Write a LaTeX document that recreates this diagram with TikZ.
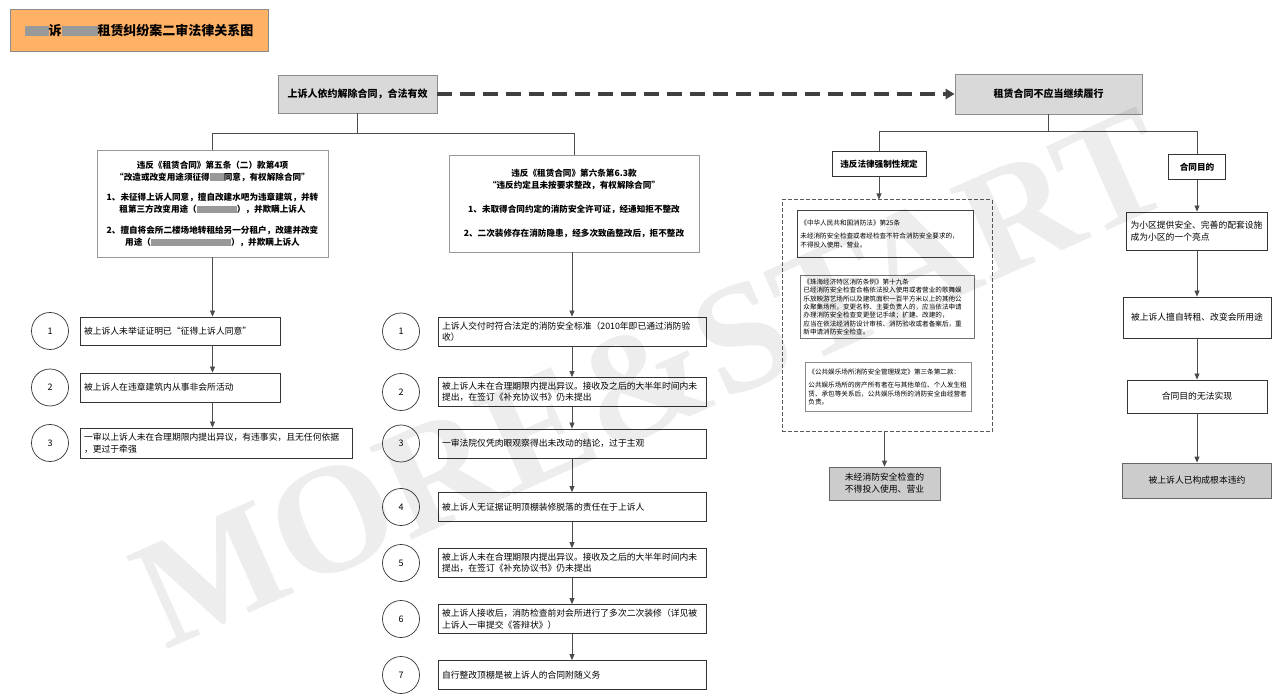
\documentclass[tikz,border=0pt]{standalone}
\usepackage{fontspec}
\setmainfont{Noto Sans CJK SC}
\newfontfamily\wmfont{Liberation Serif}
\usetikzlibrary{arrows.meta,positioning,calc}

\definecolor{titleorange}{HTML}{FFB266}
\newcommand{\blurbox}[2]{\textcolor{black!40}{\rule[-0.5pt]{#1}{#2}}}

\begin{document}
\begin{tikzpicture}[x=1pt,y=-1pt,
  conn/.style={draw=black!70,line width=0.8pt},
  arr/.style={conn,-{Triangle[length=6pt,width=5pt]}},
  topbox/.style={draw=black!45,fill=black!15,line width=0.8pt,inner sep=0pt,font=\bfseries\fontsize{10}{12}\selectfont},
  bigbox/.style={draw=black!40,fill=white,line width=0.8pt,inner sep=0pt,align=center,font=\bfseries\fontsize{8.6}{12}\selectfont},
  itembox/.style={draw=black!80,fill=white,line width=0.8pt,inner xsep=4pt,inner ysep=0pt,align=left,font=\fontsize{8.8}{11.5}\selectfont},
  numcirc/.style={circle,draw=black!80,line width=0.7pt,minimum size=37pt,inner sep=0pt,font=\fontsize{9}{11}\selectfont},
  lawbox/.style={draw=black!75,fill=white,line width=0.8pt,inner xsep=3pt,inner ysep=0pt,anchor=north west,align=left,font=\fontsize{6.6}{8.4}\selectfont},
  keybox/.style={draw=black!80,fill=white,line width=1pt,inner sep=0pt,font=\bfseries\fontsize{8.6}{10}\selectfont},
  graybox/.style={draw=black!60,fill=black!20,line width=0.8pt,inner sep=0pt,align=center,font=\fontsize{8.8}{12}\selectfont},
]
\useasboundingbox (0,0) rectangle (1280,700);

% title
\node[draw=black!45,fill=titleorange,line width=1pt,minimum width=258pt,minimum height=42pt,inner sep=0pt,
  font=\bfseries\fontsize{13}{15}\selectfont] (title) at (139,31)
  {\blurbox{24pt}{10pt}诉\blurbox{36pt}{10pt}租赁纠纷案二审法律关系图};

% top level
\node[topbox,minimum width=159pt,minimum height=38pt] (topL) at (357.5,94) {上诉人依约解除合同，合法有效};
\node[topbox,minimum width=187pt,minimum height=40pt] (topR) at (1048.5,94) {租赁合同不应当继续履行};
\draw[black!75,line width=3.5pt,dash pattern=on 15pt off 8pt,-{Triangle[length=9pt,width=10pt]}] (topL.east) -- (topR.west);

% grounds for termination
\node[bigbox,minimum width=231pt,minimum height=107pt] (bigL) at (212.5,203.5) {违反《租赁合同》第五条（二）款第4项\\
  “改造或改变用途须征得\blurbox{14pt}{8pt}同意，有权解除合同”\\[8pt]
  1、未征得上诉人同意，擅自改建水吧为违章建筑，并转\\
  租第三方改变用途（\blurbox{40pt}{7pt}），并欺瞒上诉人\\[9pt]
  2、擅自将会所二楼场地转租给另一分租户，改建并改变\\
  用途（\blurbox{80pt}{7pt}），并欺瞒上诉人};
\node[bigbox,minimum width=250pt,minimum height=97pt] (bigM) at (574,203.5) {违反《租赁合同》第六条第6.3款\\
  “违反约定且未按要求整改，有权解除合同”\\[12pt]
  1、未取得合同约定的消防安全许可证，经通知拒不整改\\[12pt]
  2、二次装修存在消防隐患，经多次致函整改后，拒不整改};

\coordinate (splitL) at ($(topL.south)+(0,20)$);
\draw[conn] (topL.south) -- (splitL);
\draw[conn] (bigL.north) |- (splitL) -| (bigM.north);

% left column
\node[numcirc] (a1) at (50,331) {1};
\node[numcirc] (a2) at (50,387.5) {2};
\node[numcirc] (a3) at (50,443) {3};
\node[itembox,text width=192pt,minimum height=28pt] (L1) at (180,331) {被上诉人未举证证明已“征得上诉人同意”};
\node[itembox,text width=192pt,minimum height=29pt] (L2) at (180,387.5) {被上诉人在违章建筑内从事非会所活动};
\node[itembox,text width=264pt,minimum height=30pt] (L3) at (216,443) {一审以上诉人未在合理期限内提出异议，有违事实，且无任何依据\\，更过于牵强};
\draw[arr] (bigL.south) -- (bigL.south |- L1.north);
\draw[arr] (bigL.south |- L1.south) -- (bigL.south |- L2.north);
\draw[arr] (bigL.south |- L2.south) -- (bigL.south |- L3.north);

% middle column
\foreach \n/\yy/\txt in {
  1/331.5/{上诉人交付时符合法定的消防安全标准（2010年即已通过消防验\\收）},
  2/392/{被上诉人未在合理期限内提出异议。接收及之后的大半年时间内未\\提出，在签订《补充协议书》仍未提出},
  3/443.5/{一审法院仅凭肉眼观察得出未改动的结论，过于主观},
  4/507/{被上诉人无证据证明顶棚装修脱落的责任在于上诉人},
  5/563/{被上诉人未在合理期限内提出异议。接收及之后的大半年时间内未\\提出，在签订《补充协议书》仍未提出},
  6/619/{被上诉人接收后，消防检查前对会所进行了多次二次装修（详见被\\上诉人一审提交《答辩状》）},
  7/675/{自行整改顶棚是被上诉人的合同附随义务}}{
  \node[numcirc] (c\n) at (401,\yy) {\n};
  \node[itembox,text width=260pt,minimum height=29pt] (M\n) at (572,\yy) {\txt};
}
\draw[arr] (M1.north |- bigM.south) -- (M1.north);
\foreach \p/\n in {1/2,2/3,3/4,4/5,5/6,6/7}
  \draw[arr] (M\p.south) -- (M\n.north);

% right side
\node[keybox,minimum width=94pt,minimum height=25pt] (viol) at (879,164.5) {违反法律强制性规定};
\node[keybox,minimum width=57pt,minimum height=25pt] (goal) at (1197,167.5) {合同目的};
\coordinate (splitR) at ($(topR.south)+(0,17)$);
\draw[conn] (topR.south) -- (splitR);
\draw[conn] (viol.north) |- (splitR) -| (goal.north);

\node[draw=black!65,line width=1pt,dash pattern=on 4pt off 2pt,minimum width=210pt,minimum height=232pt,inner sep=0pt] (dbox) at (887,316) {};
\node[lawbox,text width=170pt,minimum height=47pt] (law1) at (797,210) {《中华人民共和国消防法》第25条\\[5pt]
  未经消防安全检查或者经检查不符合消防安全要求的，\\不得投入使用、营业。};
\node[lawbox,draw=black!55,text width=168pt,minimum height=63pt] (law2) at (800,275) {《珠海经济特区消防条例》第十九条\\
  已经消防安全检查合格依法投入使用或者营业的歌舞娱\\
  乐放映游艺场所以及建筑面积一百平方米以上的其他公\\
  众聚集场所，变更名称、主要负责人的，应当依法申请\\
  办理消防安全检查变更登记手续；扩建、改建的，\\
  应当在依法经消防设计审核、消防验收或者备案后，重\\
  新申请消防安全检查。};
\node[lawbox,draw=black!45,text width=160pt,minimum height=49pt] (law3) at (805,362) {《公共娱乐场所消防安全管理规定》第三条第二款：\\[5pt]
  公共娱乐场所的房产所有者在与其他单位、个人发生租\\
  赁、承包等关系后，公共娱乐场所的消防安全由经营者\\
  负责。};
\node[graybox,minimum width=111pt,minimum height=33pt] (res) at (884.5,483.5) {未经消防安全检查的\\不得投入使用、营业};
\draw[arr] (viol.south) -- (viol.south |- dbox.north);
\draw[arr] (res.north |- dbox.south) -- (res.north);

\node[itembox,text width=133pt,minimum height=38pt] (G1) at (1197,231) {为小区提供安全、完善的配套设施\\成为小区的一个亮点};
\node[itembox,align=center,minimum width=148pt,minimum height=41pt] (G2) at (1197,317.5) {被上诉人擅自转租、改变会所用途};
\node[itembox,align=center,minimum width=140pt,minimum height=33pt] (G3) at (1197,396.5) {合同目的无法实现};
\node[graybox,minimum width=149pt,minimum height=35pt] (G4) at (1197,480.5) {被上诉人已构成根本违约};
\draw[arr] (goal.south) -- (G1.north);
\draw[arr] (G1.south) -- (G2.north);
\draw[arr] (G2.south) -- (G3.north);
\draw[arr] (G3.south) -- (G4.north);

% watermark
\node[rotate=24,text=black,opacity=0.07,font=\wmfont\bfseries\fontsize{155}{155}\selectfont] (mark) at (652,378) {MORE\&START};
\end{tikzpicture}
\end{document}
